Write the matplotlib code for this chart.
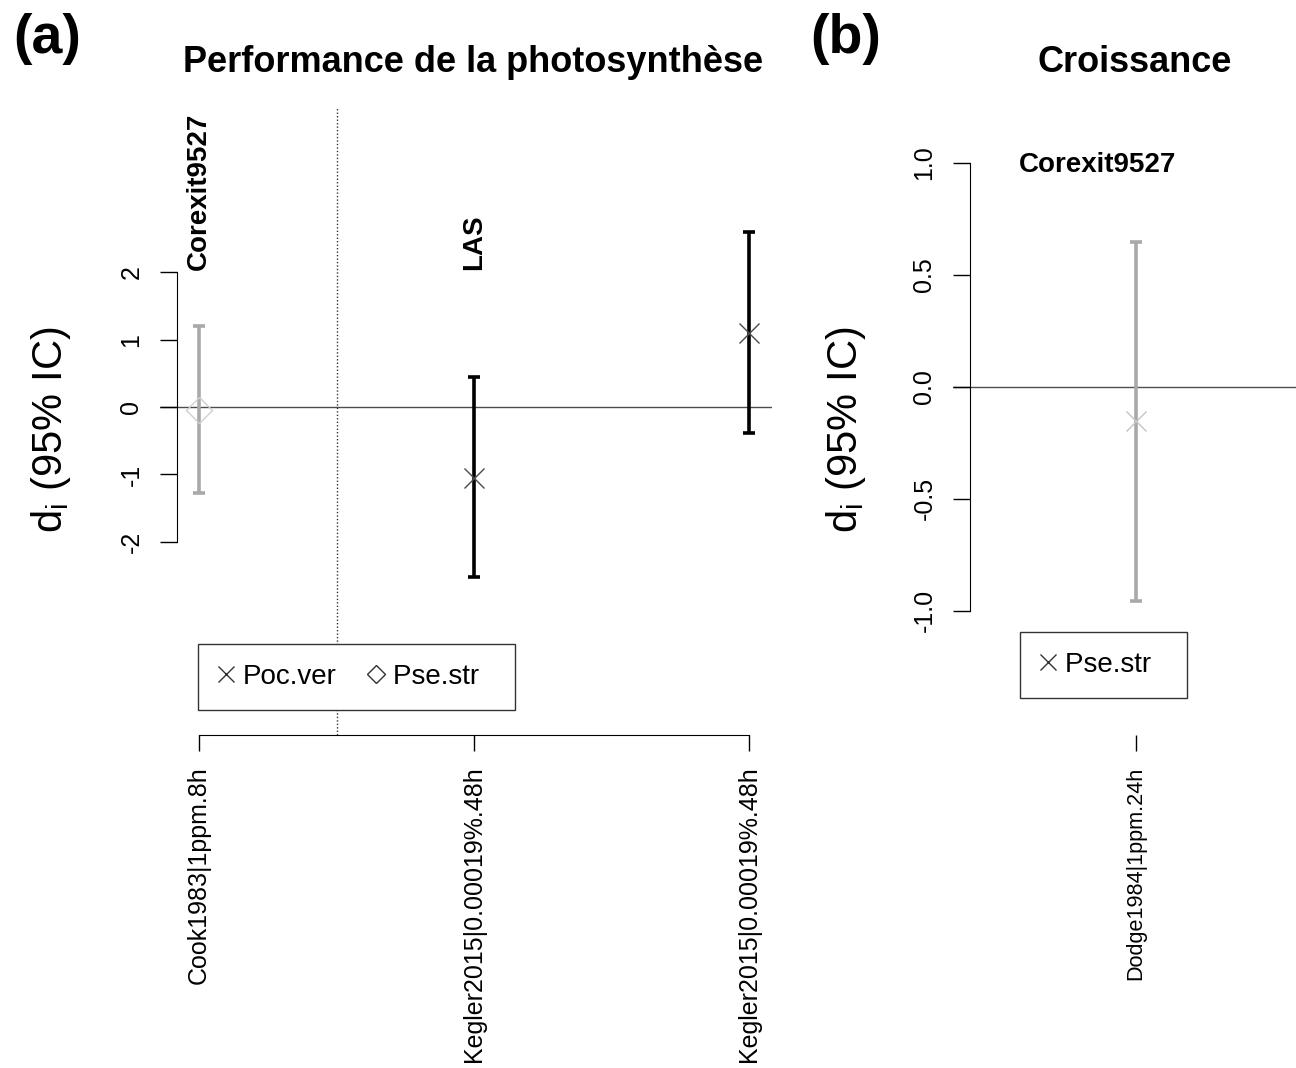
import matplotlib
matplotlib.use("Agg")
import matplotlib.pyplot as plt
from matplotlib.lines import Line2D

plt.rcParams["font.family"] = ["Liberation Sans", "DejaVu Sans"]
plt.rcParams["mathtext.default"] = "regular"

# panel (a): photosynthesis performance
studiesA = ["Cook1983|1ppm.8h", "Kegler2015|0.00019%.48h", "Kegler2015|0.00019%.48h"]
diA = [-0.04, -1.05, 1.10]
lowA = [-1.28, -2.52, -0.39]
highA = [1.20, 0.45, 2.60]
markersA = ["D", "x", "x"]
barColorsA = ["#a9a9a9", "black", "black"]
markColorsA = ["#cfcfcf", "#4a4a4a", "#4a4a4a"]
groupsA = ["Corexit9527", "LAS"]
groupPosA = [1, 2]

# panel (b): growth
studiesB = ["Dodge1984|1ppm.24h"]
diB = [-0.155]
lowB = [-0.957]
highB = [0.645]
groupsB = ["Corexit9527"]

W, H = 1296, 1068
fig = plt.figure(figsize=(W / 100, H / 100), dpi=100)


def pxAxes(left, right, top, bottom):
    return fig.add_axes([left / W, 1 - bottom / H, (right - left) / W, (bottom - top) / H])


def styleAxes(ax, spineX, yb, xb, yticks, ylabels, xticks, xlabels, xfs):
    for s in ["top", "right"]:
        ax.spines[s].set_visible(False)
    ax.patch.set_alpha(0)
    ax.spines["left"].set_position(("data", spineX))
    ax.spines["left"].set_bounds(*yb)
    ax.spines["bottom"].set_bounds(*xb)
    ax.set_yticks(yticks)
    ax.set_yticklabels(ylabels, rotation=90, va="center")
    ax.set_xticks(xticks)
    ax.set_xticklabels(xlabels, rotation=90, ha="center", va="top", fontsize=xfs)
    ax.tick_params(axis="y", length=12.2, width=1, labelsize=18, pad=12)
    ax.tick_params(axis="x", length=11.8, width=1, pad=11)


def drawPoints(ax, xs, di, lo, hi, markers, barColors, markColors):
    for x, d, l, h, m, bc, mc in zip(xs, di, lo, hi, markers, barColors, markColors):
        ax.errorbar([x], [d], yerr=[[d - l], [h - d]], fmt="none", ecolor=bc,
                    elinewidth=2.6, capsize=4.3, capthick=2.6, zorder=3)
        size = 13.2 if m == "D" else 14.4
        ax.plot([x], [d], marker=m, ms=size, mfc="none", mec=mc, mew=1.0,
                ls="none", zorder=4)


# ---- panel (a)
axA = pxAxes(160, 772, 107, 735)
xsA = [1, 2, 3]
axA.set_xlim(1 - 39 / 275, 3 + 23 / 275)
axA.set_ylim(-(735 - 407) / 67.4, (407 - 107) / 67.4)
axA.axhline(0, color="#4d4d4d", lw=1.0, zorder=1)
axA.axvline(1.5, color="#333333", lw=1.0, ls=(0, (1, 1.5)), zorder=1)
drawPoints(axA, xsA, diA, lowA, highA, markersA, barColorsA, markColorsA)
styleAxes(axA, 1 - 22 / 275, (-2, 2), (1, 3), [-2, -1, 0, 1, 2],
          ["-2", "-1", "0", "1", "2"], xsA, studiesA, 18)
for g, p in zip(groupsA, groupPosA):
    axA.text(p, 2.03, g, rotation=90, ha="center", va="bottom",
             fontsize=20, fontweight="bold")

handlesA = [
    Line2D([], [], marker="x", ls="none", color="#333333", ms=11, mew=1.0),
    Line2D([], [], marker="D", ls="none", mfc="none", mec="#333333", ms=8.8, mew=1.0),
]
# trailing spaces widen the box on the right like R's legend()
legA = axA.legend(handlesA, ["Poc.ver", "Pse.str  "], ncol=2, loc="upper left",
                  bbox_to_anchor=(198 / W, 1 - 644 / H), bbox_transform=fig.transFigure,
                  borderaxespad=0, fontsize=20, frameon=True, fancybox=False,
                  edgecolor="#333333", framealpha=1, handlelength=0.6,
                  handletextpad=0.3, columnspacing=1.12, borderpad=0.72)
legA.get_frame().set_linewidth(1.0)

# ---- panel (b)
axB = pxAxes(953, 1296, 107, 735)
xsB = [1]
axB.set_xlim(1 - 182.7 / 275, 1 + 160.3 / 275)
axB.set_ylim(-(735 - 386.7) / 224, (386.7 - 107) / 224)
axB.axhline(0, color="#4d4d4d", lw=1.0, zorder=1)
drawPoints(axB, xsB, diB, lowB, highB, ["x"], ["#a9a9a9"], ["#c4c4c4"])
styleAxes(axB, 1 - 165.7 / 275, (-1, 1), (1, 1), [-1.0, -0.5, 0.0, 0.5, 1.0],
          ["-1.0", "-0.5", "0.0", "0.5", "1.0"], xsB, studiesB, 15.6)
axB.spines["bottom"].set_visible(False)
axB.text(0.863, 0.99, groupsB[0], ha="center", va="center", fontsize=20,
         fontweight="bold")

handlesB = [Line2D([], [], marker="x", ls="none", color="#333333", ms=11, mew=1.0)]
legB = axB.legend(handlesB, ["Pse.str  "], loc="upper left",
                  bbox_to_anchor=(1020 / W, 1 - 632 / H), bbox_transform=fig.transFigure,
                  borderaxespad=0, fontsize=20, frameon=True, fancybox=False,
                  edgecolor="#333333", framealpha=1, handlelength=0.6,
                  handletextpad=0.3, borderpad=0.72)
legB.get_frame().set_linewidth(1.0)

# ---- titles and labels
fig.text(473 / W, 1 - 63 / H, "Performance de la photosynthèse", ha="center",
         va="center", fontsize=26, fontweight="bold")
fig.text(1135 / W, 1 - 63 / H, "Croissance", ha="center", va="center",
         fontsize=26, fontweight="bold")
fig.text(47 / W, 1 - 39 / H, "(a)", ha="center", va="center", fontsize=40,
         fontweight="bold")
fig.text(846 / W, 1 - 39 / H, "(b)", ha="center", va="center", fontsize=40,
         fontweight="bold")
for xc in [51, 846]:
    fig.text(xc / W, 1 - 430 / H, "d$_i$ (95% IC)", rotation=90, ha="center",
             va="center", fontsize=30)

fig.savefig("out.png", dpi=100, facecolor="white")
